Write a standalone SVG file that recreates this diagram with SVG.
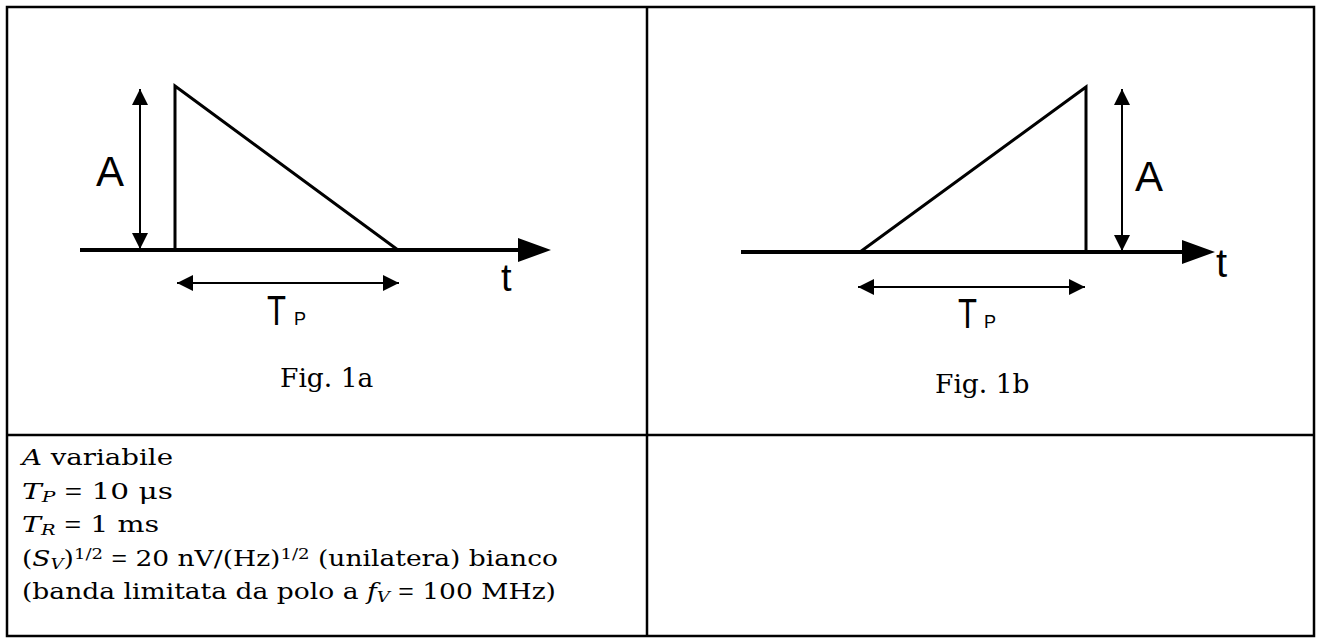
<svg xmlns="http://www.w3.org/2000/svg" width="1321" height="642" viewBox="0 0 1321 642">
  <style>
    .frame { fill: none; stroke: #000; stroke-width: 2.5; }
    .axis { stroke: #000; stroke-width: 4; fill: none; }
    .pulse { stroke: #000; stroke-width: 3; fill: none; stroke-linejoin: miter; }
    .dim { stroke: #000; stroke-width: 2; fill: none; marker-start: url(#ah); marker-end: url(#ah); }
    .head { fill: #000; }
    .sans { font-family: "Liberation Sans", Arial, sans-serif; fill: #000; }
    .serif { font-family: "DejaVu Serif", "Liberation Serif", serif; fill: #000; }
    .body { font-size: 22px; }
    .it { font-style: italic; }
    .sub { font-size: 15px; }
    .sup { font-size: 15px; }
  </style>
  <defs>
    <marker id="ah" viewBox="0 0 16 16" refX="16" refY="8" markerWidth="16" markerHeight="16" markerUnits="userSpaceOnUse" orient="auto-start-reverse">
      <path d="M0,0 L16,8 L0,16 Z" fill="#000"/>
    </marker>
  </defs>
  <rect width="1321" height="642" fill="#fff"/>

  <g id="table">
    <rect class="frame" x="7" y="7" width="1307" height="629"/>
    <line class="frame" x1="647" y1="7" x2="647" y2="636"/>
    <line class="frame" x1="7" y1="435" x2="1314" y2="435"/>
  </g>

  <g id="fig1a">
    <line class="axis" x1="80" y1="250" x2="520" y2="250"/>
    <polygon class="head" points="518,238 551,250 518,262"/>
    <polyline class="pulse" points="175,250 175,86 398,250"/>
    <text class="sans" x="96" y="186" font-size="42">A</text>
    <text class="sans" x="501" y="291" font-size="38">t</text>
    <text class="sans" x="267" y="325" font-size="42" textLength="19" lengthAdjust="spacingAndGlyphs">T</text>
    <text class="sans" x="294" y="325" font-size="18">P</text>
    <text class="serif" x="280" y="387" font-size="26.5">Fig. 1a</text>
  </g>

  <g id="fig1b">
    <line class="axis" x1="741" y1="252" x2="1184" y2="252" stroke-width="5"/>
    <polygon class="head" points="1182,240 1215,252 1182,264"/>
    <polyline class="pulse" points="860,252 1086,87 1086,252"/>
    <text class="sans" x="1135" y="191" font-size="42">A</text>
    <text class="sans" x="1216" y="277" font-size="40">t</text>
    <text class="sans" x="958" y="328" font-size="42" textLength="19" lengthAdjust="spacingAndGlyphs">T</text>
    <text class="sans" x="984" y="328" font-size="18">P</text>
    <text class="serif" x="935" y="393" font-size="26.5">Fig. 1b</text>
  </g>

  <g id="connectors">
    <line class="dim" x1="140" y1="249" x2="140" y2="89"/>
    <line class="dim" x1="177" y1="283" x2="399" y2="283"/>
    <line class="dim" x1="1122" y1="251" x2="1122" y2="89"/>
    <line class="dim" x1="858" y1="287" x2="1085" y2="287"/>
  </g>

  <g id="params" class="serif body">
    <text x="22" y="465" textLength="151" lengthAdjust="spacingAndGlyphs"><tspan class="it">A</tspan> variabile</text>
    <text x="22" y="498.5" textLength="151" lengthAdjust="spacingAndGlyphs"><tspan class="it">T</tspan><tspan class="it sub" dy="3">P</tspan><tspan dy="-3"> </tspan><tspan class="sans">=</tspan> 10  μs</text>
    <text x="22" y="532" textLength="137" lengthAdjust="spacingAndGlyphs"><tspan class="it">T</tspan><tspan class="it sub" dy="3">R</tspan><tspan dy="-3"> </tspan><tspan class="sans">=</tspan> 1 ms</text>
    <text x="22" y="565.5" textLength="536" lengthAdjust="spacingAndGlyphs">(<tspan class="it">S</tspan><tspan class="it sub" dy="3">V</tspan><tspan dy="-3">)</tspan><tspan class="sup" dy="-7">1/2</tspan><tspan dy="7"> </tspan><tspan class="sans">=</tspan> 20 nV/(Hz)<tspan class="sup" dy="-7">1/2</tspan><tspan dy="7">  (unilatera) bianco</tspan></text>
    <text x="22" y="599" textLength="534" lengthAdjust="spacingAndGlyphs">(banda limitata da polo a <tspan class="it">f</tspan><tspan class="it sub" dy="3">V</tspan><tspan dy="-3"> </tspan><tspan class="sans">=</tspan> 100 MHz)</text>
  </g>
</svg>
